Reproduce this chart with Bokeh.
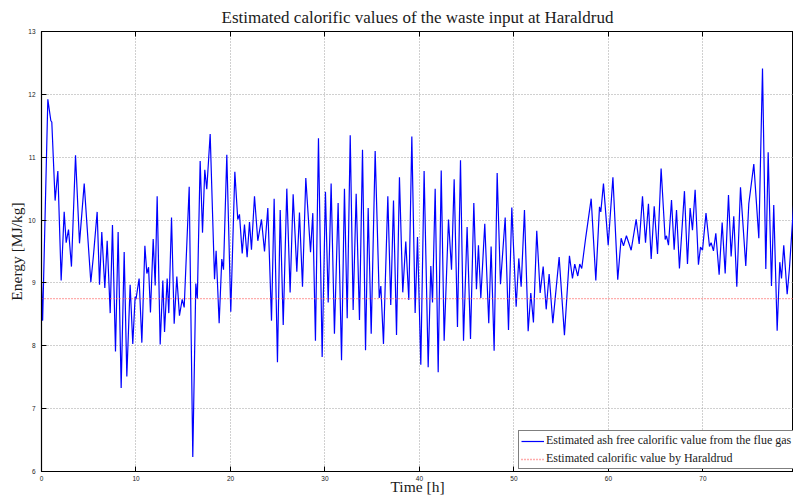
from bokeh.plotting import figure
from bokeh.models import Range1d, LinearAxis, SingleIntervalTicker, Legend, LegendItem
from bokeh.embed import file_html
from bokeh.resources import INLINE

# Time [h] and estimated ash free calorific value [MJ/kg]
time_h = [
    0.0, 0.12, 0.67, 0.99, 1.09, 1.44, 1.73, 2.08, 2.40, 2.61, 2.86, 3.17, 3.60, 4.02, 4.52,
    5.22, 5.50, 5.89, 6.14, 6.38, 6.70, 6.95, 7.27, 7.51, 7.83, 8.11, 8.43, 8.75, 9.03, 9.38,
    9.66, 9.91, 10.0, 10.33, 10.62, 10.94, 11.15, 11.33, 11.53, 11.82, 12.03, 12.24, 12.56,
    12.84, 13.02, 13.30, 13.47, 13.76, 14.04, 14.32, 14.60, 14.89, 15.10, 15.63, 16.01, 16.33,
    16.49, 16.79, 17.04, 17.28, 17.49, 17.85, 18.31, 18.48, 18.80, 19.08, 19.26, 19.61, 20.03,
    20.46, 20.77, 20.95, 21.24, 21.48, 21.76, 22.01, 22.22, 22.54, 22.89, 23.28, 23.60, 23.95,
    24.34, 24.62, 24.97, 25.26, 25.58, 25.96, 26.31, 26.63, 27.02, 27.30, 27.62, 27.97, 28.47,
    28.71, 28.99, 29.31, 29.70, 30.05, 30.34, 30.65, 31.00, 31.39, 31.75, 32.06, 32.35, 32.67,
    32.98, 33.30, 33.65, 33.97, 34.29, 34.57, 34.89, 35.31, 35.74, 35.91, 36.19, 36.65, 36.96,
    37.25, 37.57, 37.88, 38.23, 38.55, 38.87, 39.19, 39.54, 39.79, 40.14, 40.49, 40.92, 41.20,
    41.38, 41.66, 41.98, 42.30, 42.61, 43.07, 43.39, 43.67, 44.02, 44.34, 44.66, 45.04, 45.40,
    45.75, 46.03, 46.24, 46.49, 46.91, 47.33, 47.58, 47.90, 48.22, 48.57, 49.07, 49.42, 49.77,
    50.23, 50.51, 50.76, 51.11, 51.50, 51.78, 52.06, 52.41, 52.77, 53.09, 53.41, 53.72, 54.11,
    54.78, 55.34, 55.87, 56.19, 56.43, 56.75, 56.96, 57.17, 57.60, 58.17, 58.66, 59.05, 59.19,
    59.47, 59.97, 60.47, 60.98, 61.34, 61.59, 61.90, 62.40, 62.93, 63.25, 63.60, 63.92, 64.23,
    64.52, 64.84, 65.19, 65.57, 66.00, 66.14, 66.35, 66.67, 66.95, 67.20, 67.51, 68.04, 68.36,
    68.64, 68.89, 69.17, 69.52, 69.74, 69.95, 70.32, 70.69, 70.86, 71.11, 71.36, 71.71, 72.03,
    72.35, 72.70, 72.98, 73.26, 73.58, 73.97, 74.53, 74.85, 75.38, 75.91, 76.30, 76.65, 76.90,
    77.25, 77.49, 77.85, 78.13, 78.31, 78.55, 78.91, 79.15, 79.60,
]
energy = [
    9.00, 8.40, 11.92, 11.58, 11.56, 10.31, 10.78, 9.04, 10.13, 9.64, 9.85, 9.26, 11.03, 9.63, 10.58,
    9.01, 9.44, 10.13, 8.97, 9.81, 8.92, 9.67, 8.52, 9.92, 7.91, 9.81, 7.33, 9.49, 7.51, 8.97,
    8.03, 8.78, 8.74, 9.07, 8.05, 9.59, 9.15, 9.25, 8.53, 9.70, 8.96, 10.38, 8.02,
    9.04, 8.22, 9.07, 8.52, 10.04, 8.35, 9.10, 8.48, 8.74, 8.61, 10.53, 6.23, 8.99,
    8.75, 10.94, 9.80, 10.80, 10.49, 11.37, 9.06, 9.51, 8.36, 9.38, 9.21, 11.04, 8.54,
    10.77, 10.01, 10.09, 9.47, 9.93, 9.41, 9.97, 9.53, 10.38, 9.67, 10.01, 9.50, 10.19,
    8.40, 10.34, 7.74, 10.16, 8.33, 10.50, 8.85, 10.41, 9.18, 10.12, 8.94, 10.67, 9.49,
    10.11, 8.08, 11.30, 7.82, 10.45, 8.69, 10.58, 8.19, 10.27, 7.77, 10.50, 8.44, 11.35,
    8.57, 10.42, 8.41, 11.12, 7.93, 10.19, 8.19, 11.10, 8.76, 8.95, 8.03, 10.38, 8.65,
    10.31, 8.17, 10.68, 8.85, 9.66, 8.73, 11.33, 8.52, 9.73, 7.70, 10.78, 7.66, 9.27,
    8.69, 10.50, 7.58, 10.79, 8.08, 10.01, 9.21, 10.65, 8.30, 10.95, 8.08, 9.89, 8.11,
    10.27, 8.90, 9.60, 8.76, 9.94, 8.36, 9.58, 7.92, 10.75, 8.98, 10.04, 8.25, 10.20,
    8.62, 9.39, 8.94, 10.16, 8.23, 8.84, 8.37, 9.83, 8.84, 9.26, 8.58, 9.14, 8.36,
    9.41, 8.17, 9.43, 9.07, 9.30, 9.11, 9.30, 9.23, 9.73, 10.34, 9.04, 10.21, 10.13,
    10.58, 9.60, 10.68, 9.05, 9.71, 9.59, 9.75, 9.52, 10.01, 9.62, 10.38, 9.64, 10.26,
    9.38, 10.22, 9.46, 10.82, 9.69, 9.75, 9.60, 10.32, 9.53, 10.16, 9.23, 10.46, 9.30,
    10.19, 9.84, 10.48, 9.29, 9.57, 9.52, 10.11, 9.58, 9.64, 9.51, 9.79, 9.13, 9.96,
    9.15, 10.40, 9.42, 10.06, 8.94, 10.52, 9.27, 10.26, 10.89, 9.71, 12.41, 9.22, 11.08,
    8.95, 10.24, 8.24, 9.33, 9.07, 9.60, 8.82, 9.23, 10.27,
]
haraldrud_value = 8.75
x_interval = 10
y_interval = 1

serif = "Liberation Serif"
sans = "Liberation Sans"

p = figure(
    width=793, height=497, output_backend="svg", toolbar_location=None,
    x_range=Range1d(0, 79.58), y_range=Range1d(6, 13),
    min_border_left=41, min_border_right=0, min_border_top=31, min_border_bottom=25,
    title="Estimated calorific values of the waste input at Haraldrud",
    x_axis_label="Time [h]", y_axis_label="Energy [MJ/kg]",
)
p.title.text_font = serif
p.title.text_font_size = "17px"
p.title.text_font_style = "normal"
p.title.text_color = "#1a1a1a"
p.title.align = "center"
p.title.standoff = 2

p.outline_line_color = "black"
p.outline_line_width = 1
p.background_fill_color = "white"
p.border_fill_color = "white"

for ax, iv in ((p.xaxis[0], x_interval), (p.yaxis[0], y_interval)):
    ax.ticker = SingleIntervalTicker(interval=iv)
    ax.major_tick_in = 5
    ax.major_tick_out = 0
    ax.minor_tick_line_color = None
    ax.axis_line_color = "black"
    ax.axis_line_width = 1.2
    ax.major_tick_line_color = "black"
    ax.major_label_text_font = sans
    ax.major_label_text_font_size = "6.5px"
    ax.major_label_text_color = "#222222"
    ax.major_label_standoff = 2
    ax.axis_label_text_font = serif
    ax.axis_label_text_font_style = "normal"
    ax.axis_label_text_font_size = "15.5px"
    ax.axis_label_text_color = "#1a1a1a"
    ax.axis_label_standoff = 0

p.xaxis[0].major_label_standoff = 0
p.xaxis[0].axis_label_standoff = -6

top = LinearAxis(ticker=SingleIntervalTicker(interval=x_interval),
                 major_label_overrides={i * x_interval: "" for i in range(9)},
                 major_label_text_font_size="1px", major_label_standoff=0,
                 major_tick_in=5, major_tick_out=0, minor_tick_line_color=None,
                 axis_line_color="black", axis_line_width=1.2)
p.add_layout(top, "above")

for g in (p.xgrid[0], p.ygrid[0]):
    g.grid_line_color = "#a0a0a0"
    g.grid_line_dash = "1 2"
    g.grid_line_width = 1
p.xgrid[0].ticker = SingleIntervalTicker(interval=x_interval)
p.ygrid[0].ticker = SingleIntervalTicker(interval=y_interval)

r_est = p.line(time_h, energy, line_color="#0000ff", line_width=1.2)
r_har = p.line([time_h[0], time_h[-1]], [haraldrud_value, haraldrud_value],
               line_color="#ff5a5a", line_width=1.3, line_dash="1 2")

legend = Legend(items=[
    LegendItem(label="Estimated ash free calorific value from the flue gas", renderers=[r_est]),
    LegendItem(label="Estimated calorific value by Haraldrud", renderers=[r_har]),
])
legend.location = (477, 2)
legend.margin = 0
legend.padding = 2
legend.spacing = 3
legend.glyph_width = 23
legend.glyph_height = 14
legend.label_height = 14
legend.label_standoff = 2
legend.label_text_font = serif
legend.label_text_font_size = "12px"
legend.label_text_color = "#1a1a1a"
legend.border_line_color = "black"
legend.border_line_width = 1.5
legend.background_fill_color = "white"
legend.background_fill_alpha = 1
p.add_layout(legend)

open("out.html", "w").write(file_html(p, INLINE))
